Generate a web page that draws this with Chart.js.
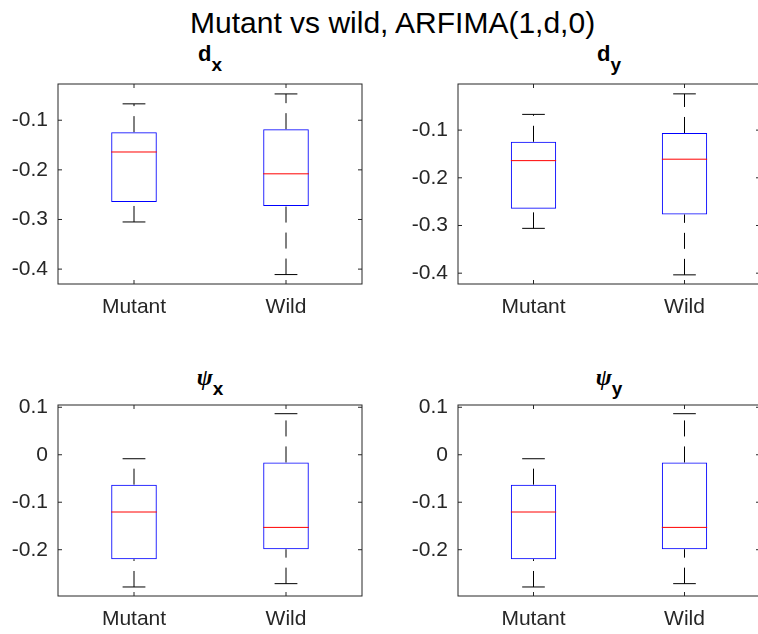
<!DOCTYPE html>
<html>
<head>
<meta charset="utf-8">
<script src="https://cdn.jsdelivr.net/npm/chart.js@4.4.1/dist/chart.umd.min.js"></script>
<style>
  body { margin: 0; background: #fff; width: 758px; height: 634px; overflow: hidden; position: relative; }
  .panel { position: absolute; }
  .maintitle { position: absolute; left: 190px; top: 8px; font: 30px "Liberation Sans", Arial, sans-serif; line-height: 30px; white-space: nowrap; color: #000; }
  .sub { position: absolute; transform: translateX(-50%); font: bold 22px "Liberation Sans", Arial, sans-serif; line-height: 22px; white-space: nowrap; color: #000; }
  .sub span { position: relative; top: 10px; font-size: 19px; }
  .sub i { font-family: "Liberation Serif", "DejaVu Serif", serif; font-style: italic; font-size: 24px; }
</style>
</head>
<body>
<div class="maintitle">Mutant vs wild, ARFIMA(1,d,0)</div>
<div class="sub" style="left:210px; top:43px;">d<span>x</span></div>
<div class="sub" style="left:609px; top:43px;">d<span>y</span></div>
<div class="sub" style="left:210px; top:366px;"><i>ψ</i><span>x</span></div>
<div class="sub" style="left:609px; top:366px;"><i>ψ</i><span>y</span></div>

<div class="panel" id="p0"><canvas id="c0"></canvas></div>
<div class="panel" id="p1"><canvas id="c1"></canvas></div>
<div class="panel" id="p2"><canvas id="c2"></canvas></div>
<div class="panel" id="p3"><canvas id="c3"></canvas></div>

<script>
// categories
var groups = ["Mutant", "Wild"];

// d_x : whisker ends, quartiles, median
var dxLow  = [-0.305, -0.411];
var dxQ1   = [-0.265, -0.273];
var dxMed  = [-0.164, -0.208];
var dxQ3   = [-0.124, -0.118];
var dxHigh = [-0.067, -0.047];

// d_y
var dyLow  = [-0.306, -0.4035];
var dyQ1   = [-0.265, -0.277];
var dyMed  = [-0.164, -0.161];
var dyQ3   = [-0.1245, -0.106];
var dyHigh = [-0.067, -0.024];

// psi_x
var pxLow  = [-0.2785, -0.2715];
var pxQ1   = [-0.220, -0.199];
var pxMed  = [-0.1206, -0.153];
var pxQ3   = [-0.063, -0.0162];
var pxHigh = [-0.0084, 0.0865];

// psi_y
var pyLow  = [-0.2785, -0.2715];
var pyQ1   = [-0.220, -0.199];
var pyMed  = [-0.1206, -0.153];
var pyQ3   = [-0.063, -0.0162];
var pyHigh = [-0.0084, 0.0865];

// y ticks and labels
var dxTicks = [-0.4, -0.3, -0.2, -0.1];
var dxTickLabels = ["-0.4", "-0.3", "-0.2", "-0.1"];
var dyTicks = [-0.4, -0.3, -0.2, -0.1];
var dyTickLabels = ["-0.4", "-0.3", "-0.2", "-0.1"];
var psiTicks = [-0.2, -0.1, 0, 0.1];
var psiTickLabels = ["-0.2", "-0.1", "0", "0.1"];

// y limits
var dxRange = [-0.43, -0.027];
var dyRange = [-0.4227, -0.0033];
var psiRange = [-0.2975, 0.1048];

var FONT = '"Liberation Sans", Arial, sans-serif';
var TXT = "#262626";

// plot areas (px) for the four axes
var boxes = [
  {l: 58, t: 84, r: 362, b: 284},
  {l: 458, t: 84, r: 760, b: 284},
  {l: 58, t: 405, r: 362, b: 596},
  {l: 458, t: 405, r: 760, b: 596}
];
var ML = 58, MT = 6, MR = 6, MB = 46;

function line(ctx, x1, y1, x2, y2) {
  ctx.beginPath();
  ctx.moveTo(x1, y1);
  ctx.lineTo(x2, y2);
  ctx.stroke();
}

// whiskers, medians, frame and inner ticks like matlab boxplot
function makeBoxPlugin(low, q1, med, q3, high) {
  return {
    id: "matlabBox",
    afterDatasetsDraw: function(chart) {
      var ctx = chart.ctx, a = chart.chartArea;
      var x = chart.scales.x, y = chart.scales.y;
      var bars = chart.getDatasetMeta(0).data;
      ctx.save();
      ctx.lineWidth = 1;
      for (var i = 0; i < med.length; i++) {
        var cx = x.getPixelForValue(i);
        var hw = bars[i].width / 2;
        ctx.strokeStyle = "#000";
        ctx.setLineDash([16, 10]);
        line(ctx, cx, y.getPixelForValue(q3[i]), cx, y.getPixelForValue(high[i]));
        line(ctx, cx, y.getPixelForValue(low[i]), cx, y.getPixelForValue(q1[i]));
        ctx.setLineDash([]);
        line(ctx, cx - hw / 2, y.getPixelForValue(high[i]), cx + hw / 2, y.getPixelForValue(high[i]));
        line(ctx, cx - hw / 2, y.getPixelForValue(low[i]), cx + hw / 2, y.getPixelForValue(low[i]));
        ctx.strokeStyle = "#ff0000";
        line(ctx, cx - hw, y.getPixelForValue(med[i]), cx + hw, y.getPixelForValue(med[i]));
      }
      // frame
      ctx.strokeStyle = TXT;
      ctx.strokeRect(a.left, a.top, a.right - a.left, a.bottom - a.top);
      // ticks pointing inwards
      y.ticks.forEach(function(t) {
        var py = y.getPixelForValue(t.value);
        line(ctx, a.left, py, a.left + 4, py);
        line(ctx, a.right, py, a.right - 4, py);
      });
      for (var j = 0; j < groups.length; j++) {
        var px = x.getPixelForValue(j);
        line(ctx, px, a.bottom, px, a.bottom - 4);
        line(ctx, px, a.top, px, a.top + 4);
      }
      ctx.restore();
    }
  };
}

function drawPanel(n, low, q1, med, q3, high, ticks, tickLabels, range) {
  var bx = boxes[n];
  var w = bx.r - bx.l + ML + MR;
  var h = bx.b - bx.t + MT + MB;
  var wrap = document.getElementById("p" + n);
  wrap.style.left = (bx.l - ML) + "px";
  wrap.style.top = (bx.t - MT) + "px";
  var cv = document.getElementById("c" + n);
  cv.width = w;
  cv.height = h;
  cv.style.width = w + "px";
  cv.style.height = h + "px";

  var quartiles = [];
  for (var i = 0; i < groups.length; i++) quartiles.push([q1[i], q3[i]]);

  new Chart(cv.getContext("2d"), {
    type: "bar",
    data: {
      labels: groups,
      datasets: [{
        data: quartiles,
        backgroundColor: "rgba(255,255,255,0)",
        borderColor: "#0000ff",
        borderWidth: 1,
        borderSkipped: false,
        barPercentage: 0.3,
        categoryPercentage: 1
      }]
    },
    options: {
      responsive: false,
      animation: false,
      events: [],
      layout: { padding: { left: 0, top: MT, right: MR, bottom: 0 } },
      plugins: { legend: { display: false }, tooltip: { enabled: false }, title: { display: false } },
      scales: {
        x: {
          offset: true,
          grid: { display: false, drawTicks: false },
          border: { display: false },
          ticks: { color: TXT, font: { family: FONT, size: 21 }, padding: 11, maxRotation: 0, autoSkip: false },
          afterFit: function(s) {
            s.height = MB;
            s.paddingLeft = 0;
            s.paddingRight = 0;
          }
        },
        y: {
          min: range[0],
          max: range[1],
          grid: { display: false, drawTicks: false },
          border: { display: false },
          ticks: {
            color: TXT,
            font: { family: FONT, size: 21 },
            padding: 10,
            callback: function(v, idx) { return tickLabels[idx]; }
          },
          afterBuildTicks: function(s) {
            s.ticks = ticks.map(function(v) { return { value: v }; });
          },
          afterFit: function(s) {
            s.width = ML;
            s.paddingTop = 0;
            s.paddingBottom = 0;
          }
        }
      }
    },
    plugins: [makeBoxPlugin(low, q1, med, q3, high)]
  });
}

drawPanel(0, dxLow, dxQ1, dxMed, dxQ3, dxHigh, dxTicks, dxTickLabels, dxRange);
drawPanel(1, dyLow, dyQ1, dyMed, dyQ3, dyHigh, dyTicks, dyTickLabels, dyRange);
drawPanel(2, pxLow, pxQ1, pxMed, pxQ3, pxHigh, psiTicks, psiTickLabels, psiRange);
drawPanel(3, pyLow, pyQ1, pyMed, pyQ3, pyHigh, psiTicks, psiTickLabels, psiRange);
</script>
</body>
</html>
